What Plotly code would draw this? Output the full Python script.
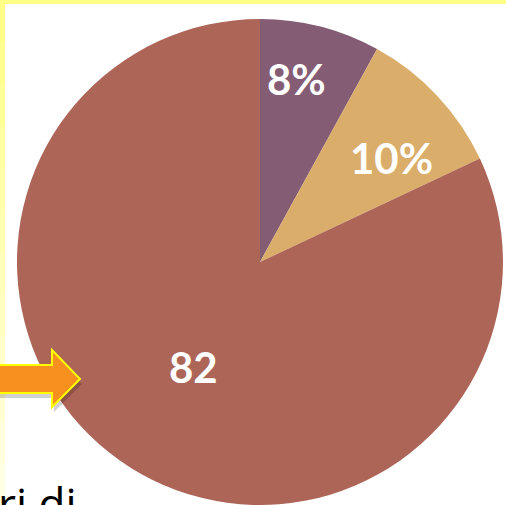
import math
import plotly.graph_objects as go

labels = ["A", "B", "C"]
values = [8, 10, 82]
label_texts = ["8%", "10%", "82"]
colors = ["#845C74", "#DBAD6A", "#AD6557"]
# style: radial placement and angular nudge (degrees) of labels
label_radius = [0.77, 0.69, 0.51]
label_nudge = [-3.0, 5.0, 0.0]

W, H = 506, 505
CX, CY, R = 260, 262, 243  # pixels from top-left


def px(x):
    return x / W


def py(y):
    return 1 - y / H


fig = go.Figure()
fig.add_trace(go.Pie(
    labels=labels, values=values, sort=False, direction="clockwise",
    rotation=0, marker=dict(colors=colors, line=dict(width=0)),
    textinfo="none", hoverinfo="skip", showlegend=False,
    domain=dict(x=[px(CX - R), px(CX + R)], y=[py(CY + R), py(CY - R)]),
))

annotations = []
total = sum(values)
cum = 0
for v, t, rf, nd in zip(values, label_texts, label_radius, label_nudge):
    mid = (cum + v / 2) / total * 2 * math.pi + math.radians(nd)
    cum += v
    x = CX + R * rf * math.sin(mid)
    y = CY - R * rf * math.cos(mid)
    annotations.append(dict(
        x=px(x), y=py(y), xref="paper", yref="paper", text="<b>%s</b>" % t,
        showarrow=False, xanchor="center", yanchor="middle",
        font=dict(family="Lato", size=42, color="white")))

annotations.append(dict(
    x=px(-4), y=py(503), xref="paper", yref="paper", text="ri di",
    showarrow=False, xanchor="left", yanchor="middle",
    font=dict(family="Open Sans", size=44, color="black")))

shapes = []
# top border
shapes.append(dict(type="rect", xref="paper", yref="paper",
                   x0=0, x1=1, y0=py(4), y1=1.01,
                   fillcolor="#FFFF88", line=dict(width=0), layer="above"))
# left border with fading yellow
n = 12
for i in range(n):
    t = i / (n - 1)
    r_, g_, b_ = 255, 255, int(0x88 + (0xE4 - 0x88) * t)
    shapes.append(dict(type="rect", xref="paper", yref="paper",
                       x0=-0.01, x1=px(5), y0=py(H * (i + 1) / n + 1), y1=py(H * i / n),
                       fillcolor="rgb(%d,%d,%d)" % (r_, g_, b_),
                       line=dict(width=0), layer="above"))


def arrow_path(dx=0, dy=0):
    pts = [(-8, 365), (52, 365), (52, 350), (80, 379), (52, 407), (52, 393), (-8, 393)]
    s = ""
    for i, (x, y) in enumerate(pts):
        s += ("M" if i == 0 else "L") + "%.5f,%.5f " % (px(x + dx), py(y + dy))
    return s + "Z"


shapes.append(dict(type="path", xref="paper", yref="paper", path=arrow_path(2, 5),
                   fillcolor="rgba(0,0,0,0.18)", line=dict(width=0), layer="above"))
shapes.append(dict(type="path", xref="paper", yref="paper", path=arrow_path(),
                   fillcolor="#F7901E", line=dict(color="#FFFF00", width=2), layer="above"))

fig.update_layout(
    width=W, height=H, margin=dict(l=0, r=0, t=0, b=0),
    paper_bgcolor="white", plot_bgcolor="white",
    annotations=annotations, shapes=shapes,
)
fig.write_html("out.html")
